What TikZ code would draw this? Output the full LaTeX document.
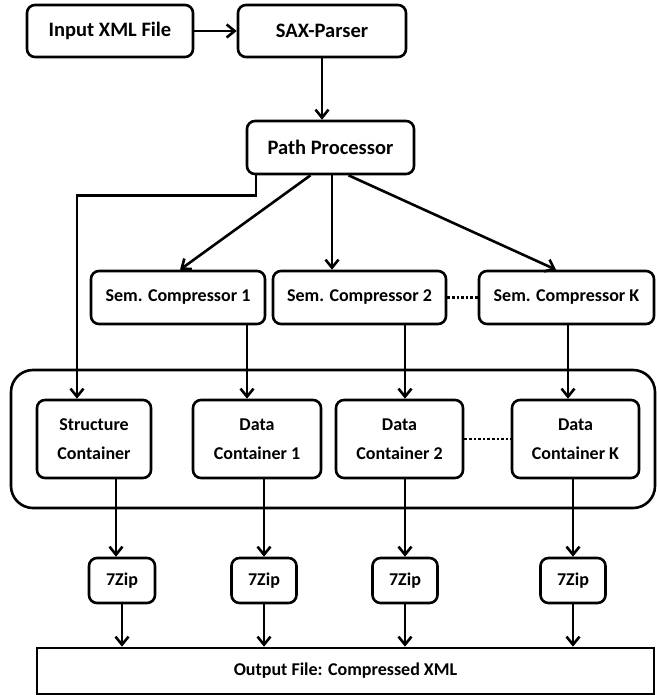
\documentclass[tikz,border=0pt]{standalone}
\usepackage{fontspec}
\setmainfont{Carlito}
\usetikzlibrary{positioning,arrows.meta}

\begin{document}
\begin{tikzpicture}[x=1pt,y=-1pt,line width=2.6pt,
  >={Straight Barb[length=8pt,width=13pt]},
  blk/.style={draw,rounded corners=8pt,inner sep=0pt,align=center,
    font=\fontsize{18}{29}\selectfont\bfseries},
  topblk/.style={blk,font=\fontsize{20.5}{24}\selectfont\bfseries}]
\useasboundingbox (0,0) rectangle (656,695);
% container round the data stores
\node[draw,rounded corners=22pt,minimum width=644pt,minimum height=138pt] (store) at (333,439) {};
\node[topblk,minimum width=166pt,minimum height=52pt] (inp) at (110,31) {Input XML File};
\node[topblk,minimum width=168pt,minimum height=52pt] (sax) at (322,31) {SAX-Parser};
\node[topblk,minimum width=167pt,minimum height=53pt] (pp) at (330.5,147.5) {Path Processor};
\node[blk,minimum width=174pt,minimum height=53pt] (sc1) at (178,297.5) {Sem. Compressor 1};
\node[blk,minimum width=173pt,minimum height=53pt] (sc2) at (359.5,297.5) {Sem. Compressor 2};
\node[blk,minimum width=175pt,minimum height=53pt] (scK) at (566.5,297.5) {Sem. Compressor K};
\node[blk,minimum width=114pt,minimum height=78pt] (stc) at (94,439) {Structure\\Container};
\node[blk,minimum width=128pt,minimum height=78pt] (dc1) at (257,439) {Data\\Container 1};
\node[blk,minimum width=127pt,minimum height=78pt] (dc2) at (399.5,439) {Data\\Container 2};
\node[blk,minimum width=127pt,minimum height=78pt] (dcK) at (575.5,439) {Data\\Container K};
\node[blk,minimum width=66pt,minimum height=45pt] (z1) at (122,580.5) {7Zip};
\node[blk,minimum width=65pt,minimum height=45pt] (z2) at (264,580.5) {7Zip};
\node[blk,minimum width=65pt,minimum height=45pt] (z3) at (405,580.5) {7Zip};
\node[blk,minimum width=65pt,minimum height=45pt] (z4) at (573,580.5) {7Zip};
\node[blk,rounded corners=0pt,minimum width=617pt,minimum height=46pt] (out) at (345.5,671) {Output File: Compressed XML};

\draw[->] (inp) -- (sax);
\draw[->] (sax.south) -- (sax.south |- pp.north);
\draw[->] ([xshift=-74.5pt]pp.south) -- ++(0,20) -| ([xshift=-17pt]stc.north);
\draw[->] ([xshift=-20pt]pp.south) -- ([xshift=2pt]sc1.north);
\draw[->] ([xshift=1.5pt]pp.south) -- ([xshift=-27.5pt]sc2.north);
\draw[->] ([xshift=18pt]pp.south) -- ([xshift=-10.5pt]scK.north);
\draw[dotted] (sc2) -- (scK);
\draw[->] ([xshift=69pt]sc1.south) -- ([xshift=-10pt]dc1.north);
\draw[->] ([xshift=45.5pt]sc2.south) -- ([xshift=5.5pt]dc2.north);
\draw[->] ([xshift=1.5pt]scK.south) -- ([xshift=-7.5pt]dcK.north);
\draw[dotted] (dc2) -- (dcK);
\draw[->] ([xshift=22pt]stc.south) -- ([xshift=-6pt]z1.north);
\draw[->] ([xshift=7pt]dc1.south) -- (z2.north);
\draw[->] ([xshift=5.5pt]dc2.south) -- (z3.north);
\draw[->] ([xshift=-2.5pt]dcK.south) -- (z4.north);
\draw[->] (z1.south) -- (z1.south |- out.north);
\draw[->] (z2.south) -- (z2.south |- out.north);
\draw[->] (z3.south) -- (z3.south |- out.north);
\draw[->] (z4.south) -- (z4.south |- out.north);
\end{tikzpicture}
\end{document}
